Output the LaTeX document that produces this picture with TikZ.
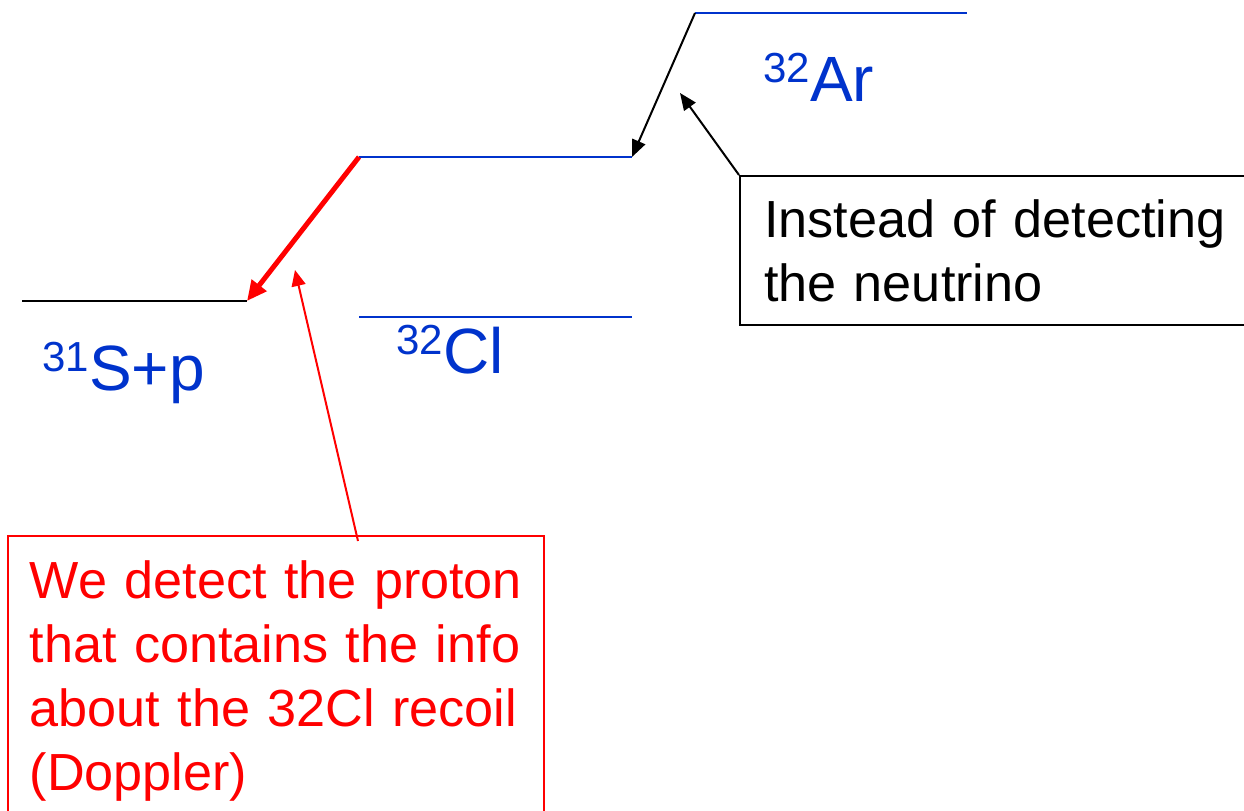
\documentclass[tikz,border=0pt]{standalone}
\usepackage{fontspec}
\setmainfont{Liberation Sans}
\usepackage{tikz}
\usetikzlibrary{
    arrows.meta,
    positioning
}
\definecolor{levelblue}{HTML}{0033CC}
\definecolor{protonred}{HTML}{FF0000}
\tikzstyle{arrow}=[->,>={Triangle[length=8.5pt,width=7pt]}]
\newcommand{\nuc}[2]{\raisebox{9.5pt}{\fontsize{21}{21}\selectfont #1}#2}

\begin{document}
\begin{tikzpicture}[
    x=0.5pt, y=-0.5pt,
    level/.style={line width=1pt},
    label/.style={
        anchor=base west,
        inner sep=0pt,
        text=levelblue,
        font=\fontsize{32}{38}\selectfont
    },
    note/.style={
        rectangle,
        draw,
        anchor=north west,
        align=left,
        inner xsep=11pt,
        font=\fontsize{26.1}{32}\selectfont
    }
]
\useasboundingbox (0,0) rectangle (1244,810);
\coordinate (s1) at (22,301);
\coordinate (s2) at (247,301);
\coordinate (i1) at (359,157);
\coordinate (i2) at (632,157);
\coordinate (c1) at (359,317);
\coordinate (c2) at (632,317);
\coordinate (a1) at (695,13);
\coordinate (a2) at (967,13);
\draw[level] (s1) -- (s2);
\draw[level,levelblue] (i1) -- (i2);
\draw[level,levelblue] (c1) -- (c2);
\draw[level,levelblue] (a1) -- (a2);
\node[label] (ar) at (763,101) {\nuc{32}{Ar}};
\node[label] (cl) at (396,373) {\nuc{32}{Cl}};
\node[label] (sp) at (42,390) {\nuc{31}{S+p}};
\draw[arrow,line width=1pt] (a1) -- (i2);
\draw[arrow,line width=2.5pt,protonred,>={Triangle[length=10pt,width=9pt]}] (i1) -- (s2);
\node[note,line width=1pt,text width=236pt,minimum height=74.5pt,inner xsep=12pt] (nu) at (739,175)
    {\mbox{Instead of detecting}\\\mbox{the neutrino}};
\node[note,line width=0.75pt,draw=protonred,text=protonred,text width=246pt,inner ysep=12.5pt] (proton) at (7,535)
    {\mbox{We detect the proton}\\\mbox{that contains the info}\\\mbox{about the 32Cl recoil}\\\mbox{(Doppler)}};
\coordinate (nutip) at (680,93);
\coordinate (foot) at (358,541);
\coordinate (ptip) at (295,270);
\draw[arrow,line width=1pt] (nu.north west) -- (nutip);
\draw[arrow,line width=1pt,protonred,>={Triangle[length=8pt,width=7pt]}] (foot) -- (ptip);
\end{tikzpicture}
\end{document}
